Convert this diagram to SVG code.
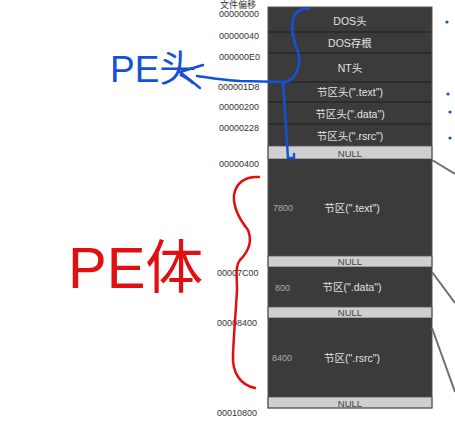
<svg xmlns="http://www.w3.org/2000/svg" width="455" height="430" viewBox="0 0 455 430">
<style>
.off{font-family:"Liberation Sans","Noto Sans CJK SC",sans-serif;font-size:9px;fill:#333}
.row{fill:#3b3b3b}
.sep{stroke:#1e1e1e;stroke-width:1.2}
.lbl{font-family:"Liberation Sans","Noto Sans CJK SC",sans-serif;font-size:10.5px;fill:#e2e2e2;text-anchor:middle}
.null{fill:#cfcfcf;stroke:#555;stroke-width:0.8}
.nt{font-family:"Liberation Sans","Noto Sans CJK SC",sans-serif;font-size:9.5px;fill:#444;text-anchor:middle}
.sz{font-family:"Liberation Sans","Noto Sans CJK SC",sans-serif;font-size:9px;fill:#aaa}
.gray{stroke:#6f6f6f;stroke-width:2;fill:none}
.blue{stroke:#1450d8;stroke-width:2.5;fill:none;stroke-linecap:round;stroke-linejoin:round}
.red{stroke:#e01010;stroke-width:2.5;fill:none;stroke-linecap:round;stroke-linejoin:round}
</style>
<rect width="455" height="430" fill="#ffffff"/>
<g id="offsets">
<text class="off" x="220" y="8" font-size="8.5">文件偏移</text>
<text class="off" x="219" y="17">00000000</text>
<text class="off" x="219" y="39">00000040</text>
<text class="off" x="219" y="60">000000E0</text>
<text class="off" x="218" y="90">000001D8</text>
<text class="off" x="219" y="110">00000200</text>
<text class="off" x="219" y="131">00000228</text>
<text class="off" x="219" y="167">00000400</text>
<text class="off" x="217" y="276">00007C00</text>
<text class="off" x="217" y="326">00008400</text>
<text class="off" x="217" y="416">00010800</text>
</g>
<g id="dos-header"><rect class="row" x="268" y="7" width="164" height="25"/><text class="lbl" x="350" y="25">DOS头</text></g>
<g id="dos-stub"><rect class="row" x="268" y="32" width="164" height="21"/><text class="lbl" x="350" y="47">DOS存根</text></g>
<g id="nt-header"><rect class="row" x="268" y="53" width="164" height="29"/><text class="lbl" x="350" y="72">NT头</text></g>
<g id="sh-text"><rect class="row" x="268" y="82" width="164" height="20"/><text class="lbl" x="350" y="96">节区头(".text")</text></g>
<g id="sh-data"><rect class="row" x="268" y="102" width="164" height="22"/><text class="lbl" x="350" y="118">节区头(".data")</text></g>
<g id="sh-rsrc"><rect class="row" x="268" y="124" width="164" height="22"/><text class="lbl" x="350" y="140">节区头(".rsrc")</text></g>
<g id="null1"><rect class="null" x="268" y="146" width="164" height="13"/><text class="nt" x="350" y="157">NULL</text></g>
<g id="sec-text"><rect class="row" x="268" y="159" width="164" height="97"/><text class="sz" x="273" y="211">7800</text><text class="lbl" x="352" y="212">节区(".text")</text></g>
<g id="null2"><rect class="null" x="268" y="256" width="164" height="11"/><text class="nt" x="350" y="265">NULL</text></g>
<g id="sec-data"><rect class="row" x="268" y="267" width="164" height="40"/><text class="sz" x="275" y="291">800</text><text class="lbl" x="352" y="291">节区(".data")</text></g>
<g id="null3"><rect class="null" x="268" y="307" width="164" height="11"/><text class="nt" x="350" y="316">NULL</text></g>
<g id="sec-rsrc"><rect class="row" x="268" y="318" width="164" height="79"/><text class="sz" x="272" y="361">8400</text><text class="lbl" x="352" y="362">节区(".rsrc")</text></g>
<g id="null4"><rect class="null" x="268" y="397" width="164" height="11"/><text class="nt" x="350" y="407">NULL</text></g>
<g id="separators">
<line class="sep" x1="268" y1="32" x2="432" y2="32"/>
<line class="sep" x1="268" y1="53" x2="432" y2="53"/>
<line class="sep" x1="268" y1="82" x2="432" y2="82"/>
<line class="sep" x1="268" y1="102" x2="432" y2="102"/>
<line class="sep" x1="268" y1="124" x2="432" y2="124"/>
<rect x="268" y="7" width="164" height="401" fill="none" stroke="#555" stroke-width="1"/>
</g>
<g id="connectors">
<line class="gray" x1="432" y1="160" x2="455" y2="174"/>
<line class="gray" x1="432" y1="272" x2="455" y2="303"/>
<line class="gray" x1="432" y1="328" x2="455" y2="392"/>
<circle cx="447" cy="22" r="1.6" fill="#1450d8"/>
<circle cx="448" cy="94" r="1.6" fill="#1450d8"/>
<circle cx="450" cy="112" r="1.6" fill="#1450d8"/>
<circle cx="450" cy="138" r="1.6" fill="#1450d8"/>
<path class="blue" d="M309,9 C300,8 295,12 293,20 C291,30 294,42 298,52 C301,62 298,72 293,78 C290,81 286,82 283,82"/>
<path class="blue" d="M283,82 L240,81 C220,80 205,77 197,76"/>
<path class="blue" d="M283,82 L288,158 L294,158 L294,154"/>
<path class="blue" d="M203,65 L180,72 L200,88"/>
<path class="red" d="M259,177 C245,176 236,183 234,195 C233,207 240,220 248,230 C252,240 250,250 240,260 C235,266 237,275 237,290 C236,310 234,330 233,355 C232,372 240,385 255,388"/>
</g>
<g id="pe-labels">
<text x="110" y="82" font-family="Liberation Sans,Noto Sans CJK SC,sans-serif" font-size="37" fill="#1450d8">PE头</text>
<text x="68" y="288" font-family="Liberation Sans,Noto Sans CJK SC,sans-serif" font-size="58" fill="#e01010">PE体</text>
</g>
</svg>
